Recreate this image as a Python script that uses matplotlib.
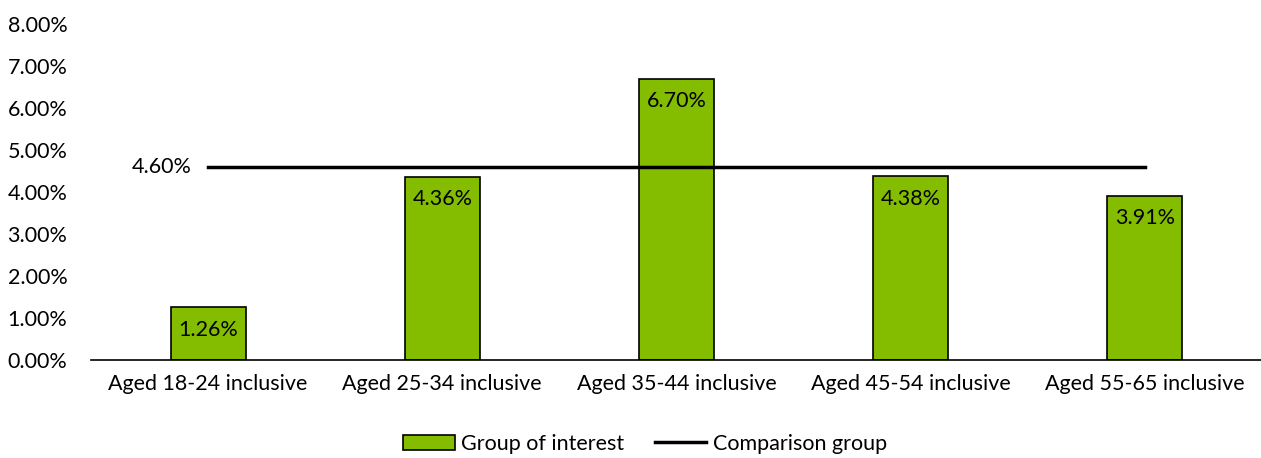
import numpy as np
import matplotlib.pyplot as plt
from matplotlib.ticker import FuncFormatter

# data
categories = ["Aged 18-24 inclusive", "Aged 25-34 inclusive", "Aged 35-44 inclusive",
              "Aged 45-54 inclusive", "Aged 55-65 inclusive"]
group_values = [1.26, 4.36, 6.70, 4.38, 3.91]
comparison_values = [4.60, 4.60, 4.60, 4.60, 4.60]

plt.rcParams['font.family'] = ['Lato', 'DejaVu Sans']
fs = 15.5

fig = plt.figure(figsize=(12.61, 4.58), dpi=100)
ax = fig.add_axes([91/1261, 1 - 360/458, 1171/1261, 336/458])

x = np.arange(len(categories))
bars = ax.bar(x, group_values, width=0.32, color="#84BC00", edgecolor="black",
              linewidth=1.2, label="Group of interest", zorder=2)
line, = ax.plot(x, comparison_values, color="black", linewidth=2.5,
                label="Comparison group", zorder=3)

for xi, v in zip(x, group_values):
    ax.text(xi, v - 0.3, f"{v:.2f}%", ha="center", va="top", fontsize=fs)
ax.text(x[0] - 0.07, comparison_values[0], f"{comparison_values[0]:.2f}%",
        ha="right", va="center", fontsize=fs)

ax.set_xlim(-0.5, len(categories) - 0.5)
ax.set_ylim(0, 8)
ax.set_yticks(np.arange(0, 9, 1))
ax.yaxis.set_major_formatter(FuncFormatter(lambda v, p: f"{v:.2f}%"))
ax.set_xticks(x)
ax.set_xticklabels(categories)
ax.tick_params(axis="both", length=0, labelsize=fs)
ax.tick_params(axis="y", pad=17)
ax.tick_params(axis="x", pad=10)
for s in ["top", "right", "left"]:
    ax.spines[s].set_visible(False)
ax.spines["bottom"].set_linewidth(1.2)

ax.legend([bars, line], ["Group of interest", "Comparison group"],
          loc="center", bbox_to_anchor=((645 - 91) / 1171, -0.25),
          ncol=2, frameon=False, fontsize=fs, handlelength=2.4,
          handletextpad=0.3, columnspacing=1.4)

fig.savefig("out.png", dpi=100)
